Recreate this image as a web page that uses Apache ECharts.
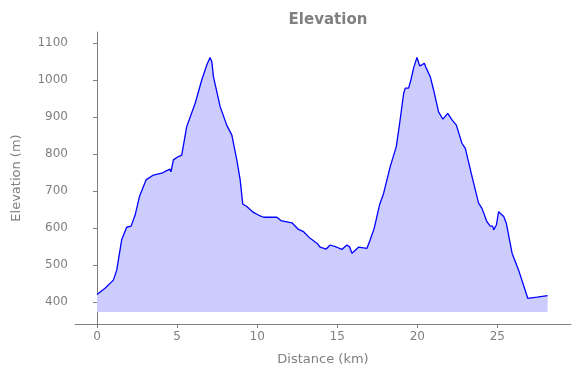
<!DOCTYPE html>
<html>
<head>
<meta charset="utf-8">
<script src="https://cdn.jsdelivr.net/npm/echarts@6/dist/echarts.min.js"></script>
<style>
  html, body { margin: 0; padding: 0; background: #fff; }
  #chart { width: 580px; height: 378px; }
</style>
</head>
<body>
<div id="chart"></div>
<script>
// distance along the route (km)
var distKm = [
    0, 0.5, 1.02, 1.23, 1.54, 1.85, 2.13, 2.38, 2.65, 3.06, 3.52, 4.04, 4.35, 4.56, 4.62,
    4.77, 5.08, 5.29, 5.6, 6.13, 6.54, 6.86, 7.06, 7.17, 7.27, 7.69, 8.1, 8.42, 8.73,
    8.94, 9.1, 9.35, 9.77, 10.08, 10.4, 11.23, 11.48, 12.17, 12.58, 12.9, 13.31, 13.73,
    13.94, 14.31, 14.56, 14.98, 15.29, 15.6, 15.77, 15.92, 16.33, 16.86, 17.06, 17.31,
    17.64, 17.9, 18.31, 18.69, 18.9, 19.15, 19.25, 19.46, 19.6, 19.77, 19.98, 20.15,
    20.29, 20.44, 20.56, 20.81, 21.02, 21.33, 21.6, 21.9, 22.17, 22.44, 22.79, 23.0,
    23.42, 23.83, 24.04, 24.35, 24.56, 24.71, 24.77, 24.94, 25.08, 25.4, 25.56, 25.92,
    26.33, 26.9, 27.48, 28.14
];
// elevation (m)
var elevM = [
    420, 437, 459, 486, 568, 602, 605, 635, 685, 730, 743, 748, 755, 759, 752,
    784, 793, 797, 874, 937, 1000, 1041, 1061, 1049, 1009, 928, 878, 851, 784,
    730, 665, 658, 642, 635, 629, 629, 620, 614, 596, 590, 572, 559,
    548, 543, 554, 548, 542, 554, 549, 532, 548, 545, 568, 599,
    662, 694, 766, 820, 883, 964, 978, 978, 1000, 1032, 1061, 1038,
    1041, 1045, 1032, 1009, 973, 914, 894, 910, 892, 878, 829, 815,
    739, 667, 653, 617, 605, 605, 595, 608, 644, 631, 613, 532,
    486, 410, 413, 417
];
var xTicks = [0, 5, 10, 15, 20, 25];
var yTicks = [400, 500, 600, 700, 800, 900, 1000, 1100];
var fillBase = 373;

var points = distKm.map(function (d, i) { return [d, elevM[i]]; });

var grey = '#808080';
var chart = echarts.init(document.getElementById('chart'));

chart.setOption({
    animation: false,
    textStyle: { fontFamily: 'DejaVu Sans' },
    title: {
        text: 'Elevation',
        left: 323,
        top: 8,
        textAlign: 'center',
        textStyle: { color: grey, fontSize: 15, fontWeight: 'bold', fontFamily: 'DejaVu Sans' }
    },
    grid: { left: 75, right: 9, top: 32, bottom: 54 },
    xAxis: {
        type: 'value',
        min: -1.375,
        max: 29.6,
        name: 'Distance (km)',
        nameLocation: 'middle',
        nameGap: 29,
        nameTextStyle: { color: grey, fontSize: 13 },
        axisLine: { lineStyle: { color: grey } },
        axisTick: { show: true, length: 4, lineStyle: { color: grey }, customValues: xTicks },
        axisLabel: { color: grey, fontSize: 12, margin: 7, customValues: xTicks },
        splitLine: { show: false }
    },
    yAxis: {
        type: 'value',
        min: 340.5,
        max: 1129.7,
        name: 'Elevation (m)',
        nameLocation: 'middle',
        nameGap: 52,
        nameTextStyle: { color: grey, fontSize: 13 },
        axisLine: { show: true, lineStyle: { color: grey } },
        axisTick: { show: true, length: 4, lineStyle: { color: grey }, customValues: yTicks },
        axisLabel: {
            color: grey, fontSize: 12, margin: 7, customValues: yTicks,
            formatter: function (v) { return String(v); }
        },
        splitLine: { show: false }
    },
    series: [{
        type: 'line',
        data: points,
        showSymbol: false,
        lineStyle: { color: '#0000ff', width: 1.3 },
        areaStyle: { color: '#ccccff', opacity: 1, origin: fillBase }
    }]
});
</script>
</body>
</html>
